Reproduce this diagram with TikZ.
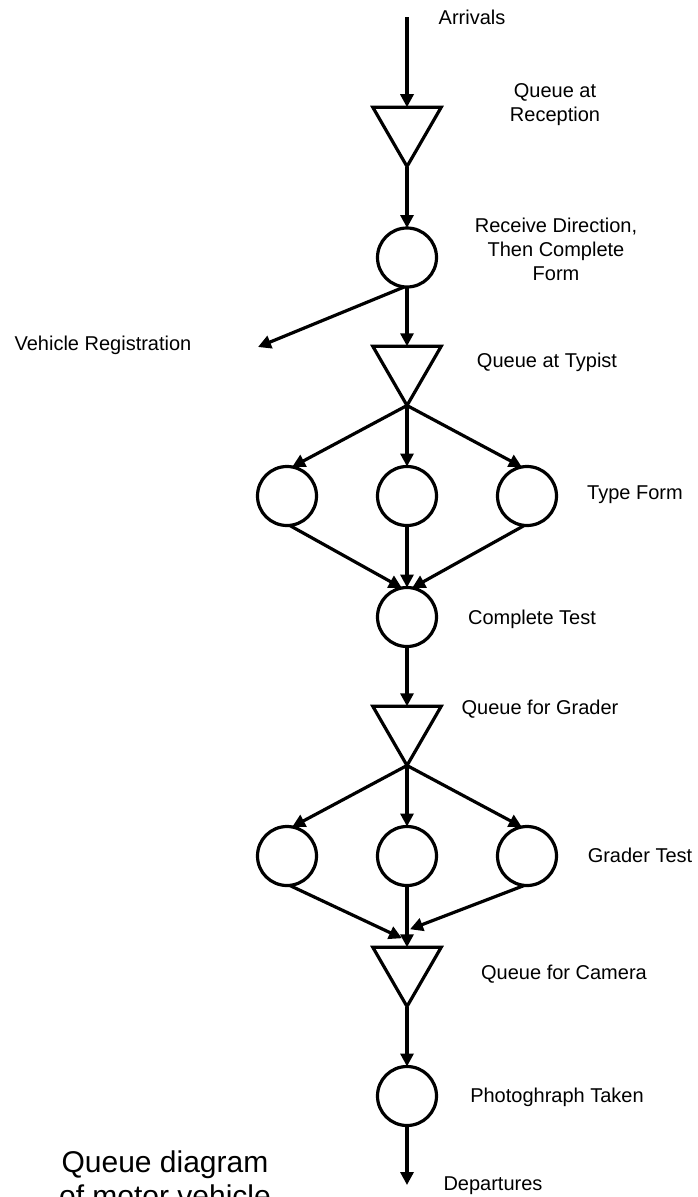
\documentclass[tikz,border=0pt]{standalone}
\usepackage{fontspec}
\setmainfont{Liberation Sans}
\usetikzlibrary{arrows.meta,shapes.geometric,calc}
\begin{document}
\begin{tikzpicture}[x=1pt,y=-1pt,
  flow/.style={line width=3.2pt,-{Triangle[length=13pt,width=13pt]}},
  station/.style={circle,draw,line width=3.2pt,minimum size=59pt,inner sep=0pt,outer sep=0pt},
  queue/.style={regular polygon,regular polygon sides=3,shape border rotate=180,
    draw,line width=3.2pt,minimum size=79pt,inner sep=0pt,outer sep=0pt},
  lbl/.style={font=\fontsize{20}{24}\selectfont,inner sep=0pt,text height=14.5pt,text depth=4.2pt},
  mlbl/.style={font=\fontsize{20}{24}\selectfont,align=center,inner sep=0pt},
  caption/.style={font=\fontsize{30}{34}\selectfont,align=center,inner sep=0pt}]
\useasboundingbox (0,0) rectangle (698,1197);

% queues (triangles) and service stations (circles)
\node[queue]   (q1) at (407,127) {};
\node[station] (s1) at (407,257.5) {};
\node[queue]   (q2) at (407,366) {};
\node[station] (t1) at (287,496) {};
\node[station] (t2) at (407,496) {};
\node[station] (t3) at (527,496) {};
\node[station] (ct) at (407,617) {};
\node[queue]   (q3) at (407,726) {};
\node[station] (g1) at (287,856) {};
\node[station] (g2) at (407,856) {};
\node[station] (g3) at (527,856) {};
\node[queue]   (q4) at (407,967) {};
\node[station] (ph) at (407,1096) {};

% free ends
\coordinate (arr) at (407,17);
\coordinate (veh) at (258,347);
\coordinate (dep) at (407,1185);

% flow of customers
\draw[flow] (arr) -- (q1.north);
\draw[flow] (q1.south) -- (s1.north);
\draw[flow] (s1.south) -- (q2.north);
\draw[flow] (s1.265) -- (veh);
\draw[flow] (q2.south) -- (t1.80);
\draw[flow] (q2.south) -- (t2.north);
\draw[flow] (q2.south) -- (t3.100);
\draw[flow] (t1.-85) -- (ct.100);
\draw[flow] (t2.south) -- (ct.north);
\draw[flow] (t3.-95) -- (ct.80);
\draw[flow] (ct.south) -- (q3.north);
\draw[flow] (q3.south) -- (g1.80);
\draw[flow] (q3.south) -- (g2.north);
\draw[flow] (q3.south) -- (g3.100);
\draw[flow] (g1.-85) -- ($(q4.north)+(-5,-9)$);
\draw[flow] (g2.south) -- (q4.north);
\draw[flow] (g3.-95) -- ($(q4.north)+(3,-18)$);
\draw[flow] (q4.south) -- (ph.north);
\draw[flow] (ph.south) -- (dep);

% labels
\node[lbl]  (la)  at (472,19)  {Arrivals};
\node[mlbl] (lq1) at (555,105) {Queue at\\Reception};
\node[mlbl] (ls1) at (556,249) {Receive Direction,\\Then Complete\\Form};
\node[lbl]  (lv)  at (103,345) {Vehicle Registration};
\node[lbl]  (lq2) at (547,362) {Queue at Typist};
\node[lbl]  (lt)  at (635,494) {Type Form};
\node[lbl]  (lc)  at (532,619) {Complete Test};
\node[lbl]  (lq3) at (540,709) {Queue for Grader};
\node[lbl]  (lg)  at (640,857) {Grader Test};
\node[lbl]  (lq4) at (564,974) {Queue for Camera};
\node[lbl]  (lp)  at (557,1097) {Photoghraph Taken};
\node[lbl]  (ld)  at (493,1185) {Departures};
\node[caption] (cap) at (165,1179) {Queue diagram\\of motor vehicle};
\end{tikzpicture}
\end{document}
